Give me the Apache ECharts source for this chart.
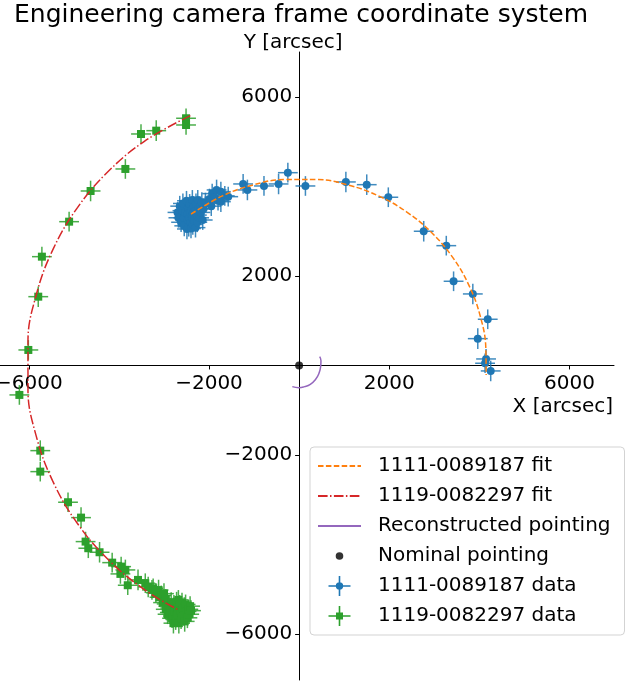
<!DOCTYPE html>
<html>
<head>
<meta charset="utf-8">
<script src="https://cdn.jsdelivr.net/npm/echarts@6.0.0/dist/echarts.min.js"></script>
<style>
  html, body { margin: 0; padding: 0; background: #fff; }
  #chart { width: 639px; height: 682px; }
</style>
</head>
<body>
<div id="chart"></div>
<script>
// tick values (matplotlib puts the spines through the origin)
const xTicks = [-6000, -2000, 2000, 6000];
const yTicks = [-6000, -2000, 2000, 6000];

// 1111-0089187 data: [x, y, xerr, yerr]
const blueData = [
  // cluster at the start of the track
  [-2700, 3420, 220, 230], [-2680, 3300, 220, 220], [-2650, 3560, 210, 230], [-2620, 3200, 220, 220],
  [-2600, 3460, 210, 230], [-2580, 3620, 220, 220], [-2560, 3300, 230, 220], [-2550, 3120, 220, 230],
  [-2530, 3420, 220, 220], [-2500, 3680, 210, 220], [-2490, 3050, 220, 230], [-2480, 3380, 220, 220],
  [-2470, 3250, 230, 220], [-2460, 3520, 220, 230], [-2450, 3100, 220, 220], [-2440, 3300, 210, 220],
  [-2430, 3600, 220, 230], [-2420, 3420, 220, 220], [-2410, 3200, 230, 220], [-2400, 3060, 220, 220],
  [-2390, 3480, 220, 230], [-2380, 3320, 220, 220], [-2370, 3700, 210, 220], [-2360, 3150, 220, 230],
  [-2350, 3400, 220, 220], [-2340, 3560, 230, 220], [-2330, 3240, 220, 220], [-2310, 3440, 220, 230],
  [-2300, 3080, 220, 220], [-2290, 3620, 210, 220], [-2270, 3360, 220, 230], [-2260, 3200, 220, 220],
  [-2250, 3700, 230, 220], [-2240, 3500, 220, 220], [-2220, 3300, 220, 230], [-2200, 3560, 220, 220],
  [-2180, 3420, 210, 220], [-2160, 3640, 220, 230], [-2140, 3250, 220, 220], [-2120, 3500, 220, 220],
  // small group
  [-2080, 3640, 220, 220], [-1990, 3720, 220, 230], [-1950, 3560, 220, 220], [-1930, 3840, 220, 220],
  [-1880, 3760, 220, 220], [-1832, 3922, 220, 230], [-1800, 3680, 220, 220], [-1737, 3884, 220, 220],
  [-1737, 3660, 220, 230], [-1650, 3790, 220, 220], [-1574, 3772, 220, 220],
  // track
  [-1243, 4056, 220, 220], [-1148, 3922, 220, 230], [-780, 4011, 220, 220], [-456, 4056, 220, 230],
  [-250, 4308, 220, 220], [140, 4011, 220, 220], [1038, 4101, 220, 230], [1501, 4040, 220, 230],
  [1980, 3759, 220, 220], [2766, 2999, 220, 230], [3267, 2677, 220, 220], [3429, 1881, 220, 220],
  [3856, 1598, 220, 230], [4187, 1032, 220, 220], [3966, 599, 220, 230], [4150, 145, 220, 220],
  [4128, 49, 220, 220], [4253, -123, 220, 230]
];

// 1119-0082297 data: [x, y, xerr, yerr]
const greenData = [
  [-2510, 5524, 220, 220], [-2510, 5374, 220, 220], [-3172, 5247, 220, 230], [-3510, 5173, 220, 220],
  [-3857, 4391, 220, 220], [-4629, 3899, 220, 230], [-5106, 3213, 220, 220], [-5710, 2431, 220, 220],
  [-5791, 1537, 220, 230], [-6011, 346, 220, 220], [-6210, -659, 220, 220], [-5746, -1904, 220, 230],
  [-5746, -2373, 220, 220], [-5130, -3057, 220, 220], [-4841, -3401, 220, 230], [-4740, -3937, 220, 220],
  [-4680, -4085, 220, 220], [-4430, -4175, 220, 230], [-4150, -4407, 220, 220], [-3951, -4496, 220, 220],
  [-3857, -4570, 220, 230], [-3967, -4659, 220, 220], [-3804, -4912, 220, 220], [-3576, -4793, 220, 230],
  [-3415, -4867, 220, 220], [-3267, -5017, 220, 220],
  // tail into the cluster
  [-3350, -4950, 220, 230], [-3240, -4980, 220, 220], [-3180, -5080, 220, 220], [-3120, -5020, 220, 230],
  [-3100, -5180, 220, 220], [-3060, -5140, 220, 220], [-3000, -5100, 220, 230], [-2960, -5220, 220, 220],
  [-3020, -5300, 220, 220], [-2940, -5330, 220, 230],
  // cluster at the end of the track
  [-2960, -5450, 220, 230], [-2920, -5560, 220, 220], [-2900, -5380, 220, 220], [-2870, -5520, 220, 220],
  [-2860, -5420, 220, 220], [-2840, -5300, 220, 230], [-2820, -5650, 220, 220], [-2800, -5600, 220, 220],
  [-2790, -5760, 220, 230], [-2780, -5350, 220, 220], [-2760, -5500, 220, 220], [-2740, -5680, 220, 230],
  [-2730, -5580, 220, 220], [-2720, -5280, 220, 220], [-2700, -5420, 220, 230], [-2690, -5560, 220, 220],
  [-2680, -5240, 220, 220], [-2670, -5760, 220, 230], [-2650, -5350, 220, 220], [-2640, -5480, 220, 220],
  [-2620, -5660, 220, 230], [-2610, -5520, 220, 220], [-2600, -5300, 220, 220], [-2580, -5440, 220, 230],
  [-2560, -5600, 220, 220], [-2550, -5400, 220, 220], [-2540, -5720, 220, 230], [-2520, -5340, 220, 220],
  [-2500, -5500, 220, 220], [-2480, -5640, 220, 230], [-2460, -5450, 220, 220], [-2440, -5560, 220, 220],
  [-2420, -5380, 220, 220], [-2400, -5480, 220, 230]
];

// fitted tracks
const blueFit = [
  [-2398, 3381], [-1715, 3783], [-1039, 4029], [-330, 4154], [390, 4154], [1099, 4029],
  [1775, 3783], [2399, 3423], [2950, 2960], [3413, 2409], [3773, 1785], [4019, 1109],
  [4144, 400], [4152, -212]
];
const greenFit = [
  [-2414, 5584], [-3435, 5008], [-4251, 4322], [-4936, 3506], [-5469, 2582], [-5834, 1581],
  [-6019, 531], [-6019, -535], [-5834, -1585], [-5469, -2586], [-4936, -3510], [-4251, -4326],
  [-3435, -5011], [-2703, -5451]
];
const reconPath = [
  [456, 197], [485, 107], [478, -27], [441, -175], [367, -309], [248, -421],
  [122, -473], [-4, -496], [-151, -473]
];
const nominal = [[0, 0]];

const BLUE = '#1f77b4', ORANGE = '#ff7f0e', GREEN = '#2ca02c', RED = '#d62728', PURPLE = '#9467bd';
const FONT = 'DejaVu Sans';
const GRID = { left: 0, right: 25, top: 52, bottom: 2 };

// legend icons drawn in a 43x20 box (the two tiny specks fix the bounding box)
const BOX = 'M0,0L0.05,0L0.05,0.05Z M43,20L42.95,20L42.95,19.95Z ';
const CROSS = 'M20.7,0L22.3,0L22.3,9.2L32.5,9.2L32.5,10.8L22.3,10.8L22.3,20L20.7,20L20.7,10.8L10.5,10.8L10.5,9.2L20.7,9.2Z ';
const dotIcon = 'path://' + BOX + 'M25.3,10A3.8,3.8 0 0,1 17.7,10A3.8,3.8 0 0,1 25.3,10Z';
const circleCrossIcon = 'path://' + BOX + CROSS + 'M25.2,10A3.7,3.7 0 0,1 17.8,10A3.7,3.7 0 0,1 25.2,10Z';
const squareCrossIcon = 'path://' + BOX + CROSS + 'M18,6.5L25,6.5L25,13.5L18,13.5Z';

function fmt(v) {
  return v < 0 ? '\u2212' + Math.abs(v) : String(v);
}

function errorBars(params, api) {
  const x = api.value(0), y = api.value(1), ex = api.value(2), ey = api.value(3);
  const a = api.coord([x - ex, y]), b = api.coord([x + ex, y]);
  const c = api.coord([x, y - ey]), d = api.coord([x, y + ey]);
  const color = api.visual('color');
  return {
    type: 'group',
    children: [
      { type: 'line', shape: { x1: a[0], y1: a[1], x2: b[0], y2: b[1] }, style: { stroke: color, lineWidth: 1.5, opacity: 0.85 } },
      { type: 'line', shape: { x1: c[0], y1: c[1], x2: d[0], y2: d[1] }, style: { stroke: color, lineWidth: 1.5, opacity: 0.85 } }
    ]
  };
}

const chart = echarts.init(document.getElementById('chart'));
chart.setOption({
  animation: false,
  backgroundColor: '#fff',
  textStyle: { fontFamily: FONT },
  title: {
    text: 'Engineering camera frame coordinate system',
    left: 14,
    top: 3,
    padding: 0,
    textStyle: { fontFamily: FONT, fontSize: 25, fontWeight: 'normal', color: '#000' }
  },
  grid: Object.assign({ containLabel: false, outerBoundsMode: 'none' }, GRID),
  legend: {
    orient: 'vertical',
    left: 310,
    top: 447,
    itemWidth: 43,
    itemHeight: 20,
    itemGap: 10,
    padding: [9, 14, 9, 7],
    borderColor: '#d3d3d3',
    borderWidth: 1,
    borderRadius: 4,
    backgroundColor: 'rgba(255,255,255,0.8)',
    selectedMode: false,
    textStyle: { fontFamily: FONT, fontSize: 20, color: '#000', padding: [0, 0, 0, 12] },
    data: [
      { name: '1111-0089187 fit', itemStyle: { opacity: 0 } },
      { name: '1119-0082297 fit', itemStyle: { opacity: 0 } },
      { name: 'Reconstructed pointing', itemStyle: { opacity: 0 } },
      { name: 'Nominal pointing', icon: dotIcon, itemStyle: { color: '#000' } },
      { name: '1111-0089187 data', icon: circleCrossIcon },
      { name: '1119-0082297 data', icon: squareCrossIcon }
    ]
  },
  graphic: [{
    type: 'text',
    right: 26,
    top: 397,
    style: { text: 'X [arcsec]', font: '20px "DejaVu Sans"', fill: '#000' }
  }],
  xAxis: {
    type: 'value',
    position: 'bottom',
    min: -6640,
    max: 6990,
    splitLine: { show: false },
    axisLine: { onZero: false, lineStyle: { color: '#000', width: 1 } },
    axisTick: { customValues: xTicks, length: 4, lineStyle: { color: '#000' } },
    axisLabel: { customValues: xTicks, formatter: fmt, margin: 8, fontSize: 20, fontFamily: FONT, color: '#000' }
  },
  yAxis: {
    type: 'value',
    position: 'left',
    min: -7030,
    max: 7005,
    name: 'Y [arcsec]',
    nameLocation: 'end',
    nameGap: -1,
    nameTextStyle: { fontFamily: FONT, fontSize: 20, color: '#000', padding: [0, 12, 0, 0] },
    splitLine: { show: false },
    axisLine: { onZero: false, lineStyle: { color: '#000', width: 1 } },
    axisTick: { customValues: yTicks, length: 4, lineStyle: { color: '#000' } },
    axisLabel: { customValues: yTicks, formatter: fmt, margin: 7, fontSize: 20, fontFamily: FONT, color: '#000' }
  },
  series: [
    {
      name: '1111-0089187 data', type: 'custom', renderItem: errorBars, data: blueData,
      encode: { x: 0, y: 1 }, itemStyle: { color: BLUE }, z: 2, silent: true
    },
    {
      name: '1111-0089187 data', type: 'scatter', data: blueData, symbol: 'circle', symbolSize: 8,
      itemStyle: { color: BLUE, opacity: 1 }, z: 3, silent: true
    },
    {
      name: '1119-0082297 data', type: 'custom', renderItem: errorBars, data: greenData,
      encode: { x: 0, y: 1 }, itemStyle: { color: GREEN }, z: 2, silent: true
    },
    {
      name: '1119-0082297 data', type: 'scatter', data: greenData, symbol: 'rect', symbolSize: 8,
      itemStyle: { color: GREEN, opacity: 1 }, z: 3, silent: true
    },
    {
      name: '1111-0089187 fit', type: 'line', data: blueFit, symbol: 'none', showSymbol: false, smooth: 0.4,
      lineStyle: { color: ORANGE, width: 1.5, type: [5.5, 2.4] }, itemStyle: { color: ORANGE }, z: 5, silent: true
    },
    {
      name: '1119-0082297 fit', type: 'line', data: greenFit, symbol: 'none', showSymbol: false, smooth: 0.4,
      lineStyle: { color: RED, width: 1.5, type: [9.6, 2.4, 1.5, 2.4] }, itemStyle: { color: RED }, z: 5, silent: true
    },
    {
      name: 'Reconstructed pointing', type: 'line', data: reconPath, symbol: 'none', showSymbol: false, smooth: true,
      lineStyle: { color: PURPLE, width: 1.5 }, itemStyle: { color: PURPLE }, z: 5, silent: true
    },
    {
      name: 'Nominal pointing', type: 'scatter', data: nominal, symbol: 'circle', symbolSize: 8,
      itemStyle: { color: '#000' }, z: 6, silent: true
    }
  ]
});

// move both spines (line, ticks, labels) so that they cross at the data origin
const origin = chart.convertToPixel({ gridIndex: 0 }, [0, 0]);
const gridBottom = 682 - GRID.bottom;
chart.setOption({
  xAxis: { offset: -(gridBottom - origin[1]) },
  yAxis: { offset: -(origin[0] - GRID.left) }
});
</script>
</body>
</html>
